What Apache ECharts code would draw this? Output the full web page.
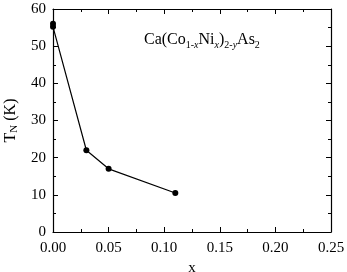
<!DOCTYPE html>
<html lang="en">
<head>
    <meta charset="UTF-8">
    <title>TN vs x</title>
    <script src="https://cdn.jsdelivr.net/npm/echarts@6/dist/echarts.min.js"></script>
    <style>
        html, body { margin: 0; padding: 0; background: #fff; }
        #main { width: 347px; height: 272px; }
    </style>
</head>
<body>
    <div id="main"></div>
</body>
<script>
    // data
    var xVals = [0, 0, 0.03, 0.05, 0.11];
    var tnVals = [56, 55.2, 22, 17, 10.5];
    var xTicks = [0, 0.05, 0.10, 0.15, 0.20, 0.25];
    var yTicks = [0, 10, 20, 30, 40, 50, 60];

    var chart = echarts.init(document.getElementById('main'));
    var serif = 'Liberation Serif';

    function axisCommon(show) {
        return {
            axisLine: { show: true, onZero: false, lineStyle: { color: '#000', width: 1.2 } },
            axisTick: { show: true, inside: true, length: 5, lineStyle: { color: '#000' } },
            minorTick: { show: true, splitNumber: 2, length: 3, lineStyle: { color: '#000' } },
            splitLine: { show: false },
            axisLabel: { show: show, color: '#000', fontFamily: serif, fontSize: 15 }
        };
    }

    var xa = Object.assign(axisCommon(true), {
        type: 'value', min: xTicks[0], max: xTicks[xTicks.length - 1], interval: 0.05,
        name: 'x', nameLocation: 'middle', nameGap: 27,
        nameTextStyle: { color: '#000', fontFamily: serif, fontSize: 15 }
    });
    xa.axisLabel.formatter = function (v) { return v.toFixed(2); };
    xa.axisLabel.margin = 9;
    var xaTop = Object.assign(axisCommon(false), { type: 'value', min: 0, max: 0.25, interval: 0.05, position: 'top' });

    var ya = Object.assign(axisCommon(true), {
        type: 'value', min: yTicks[0], max: yTicks[yTicks.length - 1], interval: 10,
        name: '{n|T}{s|N}{n| (K)}', nameLocation: 'middle', nameGap: 27, nameRotate: 90,
        nameTextStyle: {
            fontFamily: serif,
            rich: {
                n: { color: '#000', fontFamily: serif, fontSize: 16, lineHeight: 18, verticalAlign: 'middle' },
                s: { color: '#000', fontFamily: serif, fontSize: 11, lineHeight: 18, verticalAlign: 'bottom' }
            }
        }
    });
    ya.axisLabel.margin = 7;
    var yaRight = Object.assign(axisCommon(false), { type: 'value', min: 0, max: 60, interval: 10, position: 'right' });

    var pts = xVals.map(function (x, i) { return [x, tnVals[i]]; });

    chart.setOption({
        animation: false,
        textStyle: { fontFamily: serif, color: '#000' },
        grid: { left: 53, right: 16, top: 9, bottom: 40, containLabel: false, outerBoundsMode: 'none' },
        xAxis: [xa, xaTop],
        yAxis: [ya, yaRight],
        graphic: [{
            type: 'text', left: 144, top: 32,
            style: {
                text: '{n|Ca(Co}{s|1-}{si|x}{n|Ni}{si|x}{n|)}{s|2-}{si|y}{n|As}{s|2}',
                rich: {
                    n: { fill: '#000', fontFamily: serif, fontSize: 16, lineHeight: 20, verticalAlign: 'middle' },
                    s: { fill: '#000', fontFamily: serif, fontSize: 10, lineHeight: 20, verticalAlign: 'bottom' },
                    si: { fill: '#000', fontFamily: serif, fontSize: 10, fontStyle: 'italic', lineHeight: 20, verticalAlign: 'bottom' }
                }
            }
        }],
        series: [{
            type: 'line',
            data: pts,
            symbol: 'circle',
            symbolSize: 6,
            itemStyle: { color: '#000' },
            lineStyle: { color: '#000', width: 1.2 }
        }]
    });
</script>
</html>
